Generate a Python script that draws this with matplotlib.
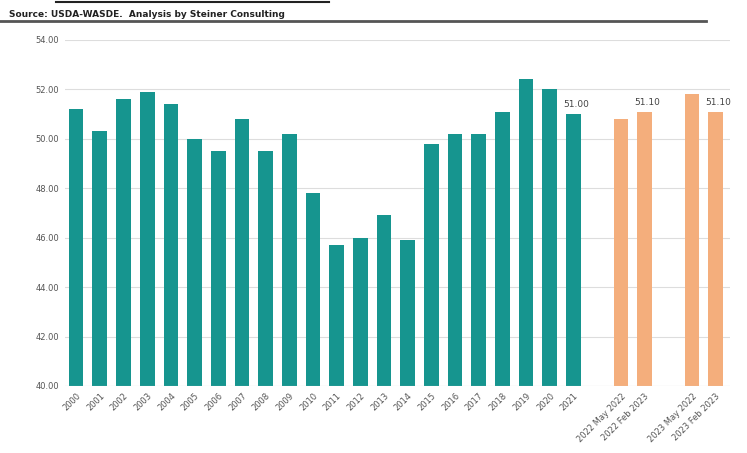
import numpy as np
import matplotlib.pyplot as plt

# Datos
anios = [str(a) for a in range(2000, 2022)]
valores = [51.2, 50.3, 51.6, 51.9, 51.4, 50.0, 49.5, 50.8, 49.5, 50.2,
           47.8, 45.7, 46.0, 46.9, 45.9, 49.8, 50.2, 50.2, 51.1, 52.4,
           52.0, 51.0]
pronosticos = ['2022 May 2022', '2022 Feb 2023', '2023 May 2022', '2023 Feb 2023']
valores_pron = [50.8, 51.1, 51.8, 51.1]
etiquetas = {21: '51.00', 24: '51.10', 27: '51.10'}

verde = '#16958f'
naranja = '#f4ae7c'

# posiciones: anos, hueco, par, hueco, par
etiq_x = anios + [''] + pronosticos[:2] + [''] + pronosticos[2:]
x = np.arange(len(etiq_x))
x_anios = x[:22]
x_pron = np.array([23, 24, 26, 27])

fig = plt.figure(figsize=(7.47, 4.53), dpi=100)
ax = fig.add_axes([0.087, 0.148, 0.89, 0.764])

ax.bar(x_anios, valores, width=0.62, color=verde)
ax.bar(x_pron, valores_pron, width=0.62, color=naranja)

todos = valores + [0] + valores_pron[:2] + [0] + valores_pron[2:]
for i, txt in etiquetas.items():
    ax.text(i + 0.1, todos[i] + 0.2, txt, ha='center', va='bottom', fontsize=6.5, color='#444444')

ax.set_ylim(40, 54)
ax.set_xlim(-0.47, 27.6)
ax.set_yticks(np.arange(40, 54.1, 2))
ax.set_yticklabels([f'{v:.2f}' for v in np.arange(40, 54.1, 2)], fontsize=6, color='#555555')
ax.set_xticks(x)
ax.set_xticklabels(etiq_x, rotation=45, ha='right', rotation_mode='anchor', fontsize=6, color='#555555')
ax.tick_params(length=0, pad=4)
ax.grid(axis='y', color='#dddddd', linewidth=0.8)
ax.set_axisbelow(True)
for s in ax.spines.values():
    s.set_visible(False)
ax.axhline(40, color='#d9d9d9', linewidth=0.8)

# Encabezado recortado
fig.add_artist(plt.Line2D([0.075, 0.44], [0.995, 0.995], color='#222222', linewidth=1.5))
fig.text(0.012, 0.968, 'Source: USDA-WASDE.  Analysis by Steiner Consulting',
         fontsize=6.5, color='#222222', fontweight='bold', va='center')
fig.add_artist(plt.Line2D([0.0, 0.945], [0.953, 0.953], color='#555555', linewidth=2))

plt.savefig('out.png', dpi=100)
